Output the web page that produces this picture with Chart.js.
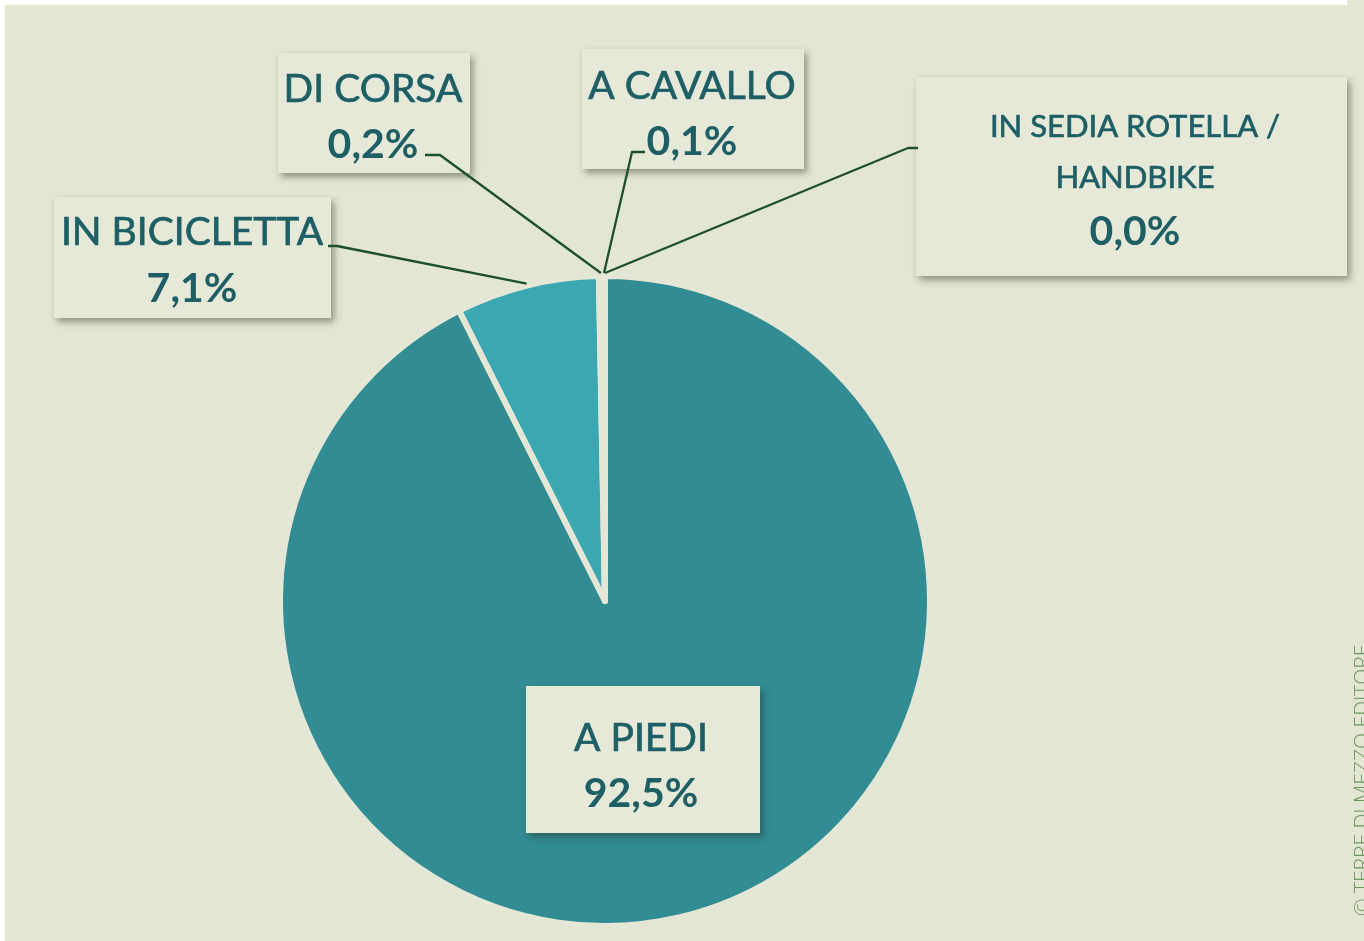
<!DOCTYPE html>
<html>
<head>
<meta charset="utf-8">
<script src="https://cdn.jsdelivr.net/npm/chart.js@4.4.1/dist/chart.umd.min.js"></script>
<style>
  html, body { margin: 0; padding: 0; background: #fff; }
  canvas { display: block; }
</style>
</head>
<body>
<canvas id="chart" width="1364" height="941"></canvas>
<script>
// data
const categories = ["A PIEDI", "IN BICICLETTA", "DI CORSA", "A CAVALLO", "IN SEDIA ROTELLA / HANDBIKE"];
const shares = [92.5, 7.1, 0.2, 0.1, 0.0];
const sliceColors = ["#328c94", "#3ba7b1", "#e5e7d6", "#e5e7d6", "#e5e7d6"];

const BG = "#e4e6d4";
const BOX = "#e6e8d8";
const TEXT = "#1e5f66";
const LEADER = "#1d4f2e";

// callout layout, one per category (same order)
const callouts = [
  { x: 526, y: 686, w: 234, h: 147, cx: 641, base: [751, 807], size: [39], pct: 41, path: null },
  { x: 54, y: 197, w: 277, h: 121, cx: 192, base: [245, 302], size: [39], pct: 41, path: [[328, 246], [337, 246]] },
  { x: 278, y: 53, w: 192, h: 120, cx: 373, base: [102, 158], size: [39], pct: 41, path: [[425, 155], [440, 155]] },
  { x: 582, y: 49, w: 222, h: 120, cx: 692, base: [99, 155], size: [39], pct: 41, path: [[645, 152], [632, 152]] },
  { x: 916, y: 77, w: 431, h: 199, cx: 1135, base: [137, 188, 245], size: [31, 31], pct: 41, path: [[918, 148], [908, 148]] }
];

function fmtPct(v) {
  return v.toFixed(1).replace(".", ",") + "%";
}

const backdrop = {
  id: "backdrop",
  beforeDraw(chart) {
    const c = chart.ctx;
    c.save();
    c.fillStyle = "#ffffff";
    c.fillRect(0, 0, chart.width, chart.height);
    c.fillStyle = BG;
    c.fillRect(5, 5, chart.width - 5, chart.height - 5);
    c.fillRect(1347, 0, chart.width - 1347, 5);
    c.restore();
  }
};

const calloutPlugin = {
  id: "callouts",
  afterDatasetsDraw(chart) {
    const c = chart.ctx;
    const meta = chart.getDatasetMeta(0);
    c.save();

    // boxes with soft shadow
    callouts.forEach((b) => {
      c.save();
      c.shadowColor = "rgba(40,45,30,0.45)";
      c.shadowBlur = 7;
      c.shadowOffsetX = 3;
      c.shadowOffsetY = 4;
      c.fillStyle = BOX;
      c.fillRect(b.x, b.y, b.w, b.h);
      c.restore();
    });

    // leader lines, ending just outside each slice
    c.strokeStyle = LEADER;
    c.lineWidth = 2.3;
    c.lineJoin = "round";
    callouts.forEach((b, i) => {
      if (!b.path) return;
      const arc = meta.data[i];
      const mid = (arc.startAngle + arc.endAngle) / 2;
      const r = arc.outerRadius + (i === 1 ? 2 : 3);
      c.beginPath();
      c.moveTo(b.path[0][0], b.path[0][1]);
      for (let k = 1; k < b.path.length; k++) c.lineTo(b.path[k][0], b.path[k][1]);
      c.lineTo(arc.x + Math.cos(mid) * r, arc.y + Math.sin(mid) * r);
      c.stroke();
    });

    // texts (a thin stroke to thicken the strokes a little)
    c.fillStyle = TEXT;
    c.strokeStyle = TEXT;
    c.lineWidth = 0.7;
    c.textAlign = "center";
    c.textBaseline = "alphabetic";
    callouts.forEach((b, i) => {
      const name = categories[i];
      const lines = name.includes(" / ") ? [name.split(" / ")[0] + " /", name.split(" / ")[1]] : [name];
      lines.forEach((ln, k) => {
        const sz = b.size[k] || b.size[0];
        c.font = "400 " + sz + "px Lato, 'Open Sans', sans-serif";
        c.fillText(ln, b.cx, b.base[k]);
        c.strokeText(ln, b.cx, b.base[k]);
      });
      c.font = "700 " + b.pct + "px Lato, 'Open Sans', sans-serif";
      c.fillText(fmtPct(shares[i]), b.cx, b.base[lines.length]);
    });

    // copyright, vertical on the right edge
    c.save();
    c.translate(1369, 916);
    c.rotate(-Math.PI / 2);
    c.textAlign = "left";
    c.fillStyle = "#6f9661";
    c.font = "300 21px 'Open Sans', Lato, sans-serif";
    c.fillText("\u00A9 TERRE DI MEZZO EDITORE", 0, 0);
    c.restore();

    c.restore();
  }
};

const ctx = document.getElementById("chart").getContext("2d");
new Chart(ctx, {
  type: "pie",
  data: {
    labels: categories,
    datasets: [{
      data: shares,
      backgroundColor: sliceColors,
      borderColor: "#e5e7d6",
      borderWidth: 6,
      borderJoinStyle: "round",
      radius: 325
    }]
  },
  options: {
    responsive: false,
    animation: false,
    layout: { padding: { left: 100, right: 254, top: 280, bottom: 19 } },
    plugins: {
      legend: { display: false },
      tooltip: { enabled: false }
    }
  },
  plugins: [backdrop, calloutPlugin]
});
</script>
</body>
</html>
